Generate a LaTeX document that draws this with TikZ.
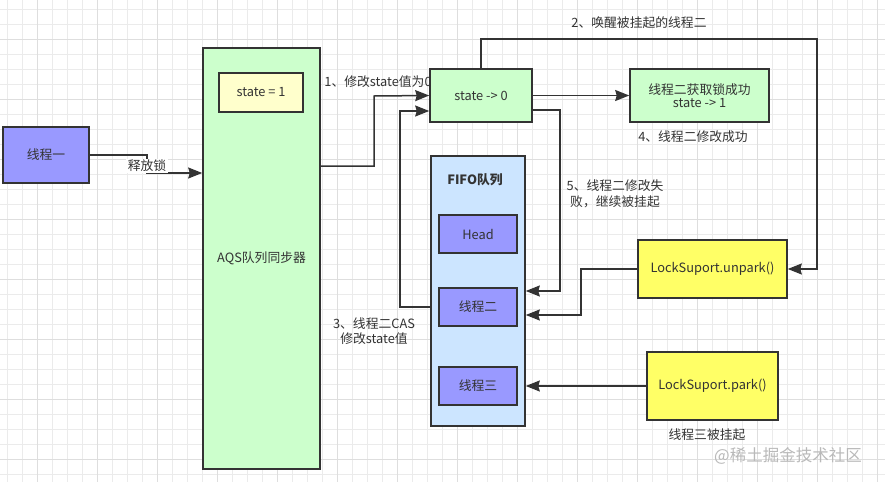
\documentclass[tikz,border=0pt]{standalone}
\usepackage{fontspec}
\setmainfont{Noto Sans CJK SC}
\usetikzlibrary{arrows.meta}
\definecolor{ink}{HTML}{333333}
\definecolor{purp}{HTML}{9999FF}
\definecolor{lgreen}{HTML}{CCFFCC}
\definecolor{lyellow}{HTML}{FFFFCC}
\definecolor{yel}{HTML}{FFFF66}
\definecolor{lblue}{HTML}{CCE5FF}
\definecolor{gminor}{HTML}{EBEBEB}
\definecolor{gmajor}{HTML}{DEDEDE}
\pgfdeclarelayer{gridlayer}
\pgfdeclarelayer{backlayer}
\pgfsetlayers{gridlayer,backlayer,main}
\tikzset{
  box/.style={draw=ink, line width=1.6pt, text=ink, font=\fontsize{12.8}{15}\selectfont, align=center, inner sep=0pt},
  conn/.style={draw=ink, line width=1.5pt},
  arr/.style={conn, -{Stealth[length=14pt,width=11pt,inset=1.5pt]}},
  lbl/.style={text=ink, font=\fontsize{12.8}{15.5}\selectfont, align=center, inner sep=1pt},
}
\begin{document}
\begin{tikzpicture}[x=1pt,y=-1pt]
\useasboundingbox (0,0) rectangle (885,482);
\begin{pgfonlayer}{gridlayer}
  \fill[white] (0,0) rectangle (885,482);
  \foreach \k in {0,...,58} {\draw[gminor, line width=0.6pt] (7.3+15*\k,0) -- (7.3+15*\k,482);}
  \foreach \k in {0,...,31} {\draw[gminor, line width=0.6pt] (0,9+15*\k) -- (885,9+15*\k);}
  \foreach \k in {0,...,14} {\draw[gmajor, line width=0.7pt] (37.3+60*\k,0) -- (37.3+60*\k,482);}
  \foreach \k in {0,...,7} {\draw[gmajor, line width=0.7pt] (0,39+60*\k) -- (885,39+60*\k);}
\end{pgfonlayer}

% nodes
\node[box, fill=purp, minimum width=86pt, minimum height=56pt] (t1) at (46,155) {线程一};
\node[box, fill=lgreen, minimum width=117pt, minimum height=421pt] (aqs) at (261.5,258.5) {AQS队列同步器};
\node[box, fill=lyellow, minimum width=84pt, minimum height=39pt] (s1) at (261,92.5) {state = 1};
\node[box, fill=lgreen, minimum width=102pt, minimum height=53pt] (s0) at (481,95.5) {state -> 0};
\node[box, fill=lgreen, minimum width=139pt, minimum height=53pt] (ok) at (699.5,95.5) {线程二获取锁成功\\[-1.5pt]state -> 1};
\node[box, fill=lblue, minimum width=94pt, minimum height=270pt] (fifo) at (478,291) {};
\node[text=ink, font=\bfseries\fontsize{12.8}{15}\selectfont, inner sep=0pt] (fifot) at (475,180) {FIFO队列};
\node[box, fill=purp, minimum width=78pt, minimum height=38pt] (head) at (478,234) {Head};
\node[box, fill=purp, minimum width=78pt, minimum height=38pt] (t2) at (478,307) {线程二};
\node[box, fill=purp, minimum width=78pt, minimum height=38pt] (t3) at (478,386) {线程三};
\node[box, fill=yel, minimum width=149pt, minimum height=58pt] (unpark) at (712.5,269) {LockSuport.unpark()};
\node[box, fill=yel, minimum width=131pt, minimum height=68pt] (park) at (712.5,386) {LockSuport.park()};

% connectors
\draw[arr] (t1.east) -- (147,155) -- (147,173) -- (aqs.west |- 0,173);
\node[lbl, fill=white, inner xsep=2pt, inner ysep=1.5pt] (lrel) at (147,166) {释放锁};

\draw[arr] (aqs.east |- 0,166) -- (374,166) -- (374,96) -- (s0.west);
\node[lbl] (l1) at (378,82) {1、修改state值为0};

\begin{pgfonlayer}{backlayer}
\draw[arr] (t2.west) -- (400,307) -- (400,111) -- (s0.west |- 0,111);
\end{pgfonlayer}
\node[lbl] (l3) at (374,331) {3、线程二CAS\\修改state值};

\draw[arr] (s0.east) -- (ok.west);
\node[lbl] (l4) at (693,137) {4、线程二修改成功};

\draw[arr] (s0.north) -- (481,39) -- (817,39) -- (817,269) -- (unpark.east);
\node[lbl] (l2) at (639,23) {2、唤醒被挂起的线程二};

\draw[arr] (s0.east |- 0,110) -- (560,110) -- (560,291) -- (fifo.east |- 0,291);
\node[lbl] (l5) at (615,194) {5、线程二修改失\\败，继续被挂起};

\draw[arr] (unpark.west) -- (581,269) -- (581,315) -- (fifo.east |- 0,315);
\draw[arr] (park.west) -- (fifo.east |- park.west);
\node[lbl] (l6) at (707,435) {线程三被挂起};

\node[text=gray!55, font=\fontsize{16.5}{18}\selectfont, inner sep=0pt] (wm) at (788,456) {@稀土掘金技术社区};
\end{tikzpicture}
\end{document}
